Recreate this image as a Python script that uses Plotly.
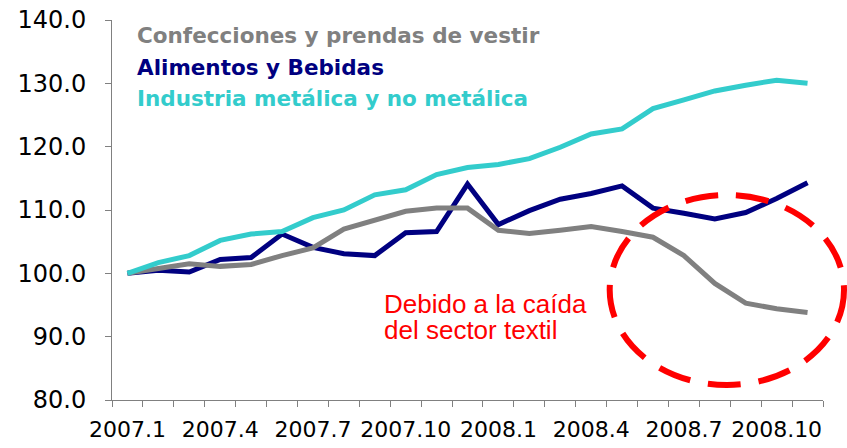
import plotly.graph_objects as go

months = ["2007.1", "2007.2", "2007.3", "2007.4", "2007.5", "2007.6", "2007.7", "2007.8",
          "2007.9", "2007.10", "2007.11", "2007.12", "2008.1", "2008.2", "2008.3", "2008.4",
          "2008.5", "2008.6", "2008.7", "2008.8", "2008.9", "2008.10", "2008.11"]
tick_labels = ["2007.1", "2007.4", "2007.7", "2007.10", "2008.1", "2008.4", "2008.7", "2008.10"]

confecciones = [100.0, 100.8, 101.5, 101.1, 101.4, 102.8, 104.0, 107.0, 108.4, 109.8, 110.3, 110.3,
                106.8, 106.3, 106.8, 107.4, 106.6, 105.7, 102.8, 98.4, 95.3, 94.4, 93.8]
alimentos = [100.0, 100.5, 100.2, 102.2, 102.5, 106.2, 104.1, 103.1, 102.8, 106.4, 106.6, 114.1,
             107.7, 109.9, 111.7, 112.6, 113.8, 110.3, 109.5, 108.6, 109.6, 111.8, 114.3]
industria = [100.0, 101.7, 102.8, 105.2, 106.2, 106.6, 108.8, 110.0, 112.4, 113.2, 115.6, 116.7,
             117.2, 118.1, 119.9, 122.0, 122.8, 126.0, 127.4, 128.8, 129.7, 130.5, 130.0]

names = ["Confecciones y prendas de vestir", "Alimentos y Bebidas", "Industria metálica y no metálica"]
colors = ["#808080", "#000080", "#33CCCC"]

W, H = 847, 448
ML, MR, MT, MB = 112, 24, 19.5, 48
PW, PH = W - ML - MR, H - MT - MB


def px(x):
    return (x - ML) / PW


def py(y):
    return (H - MB - y) / PH


fig = go.Figure()
for series, name, color in [(alimentos, names[1], colors[1]),
                            (confecciones, names[0], colors[0]),
                            (industria, names[2], colors[2])]:
    fig.add_trace(go.Scatter(x=months, y=series, mode="lines", name=name,
                             line=dict(color=color, width=5), showlegend=False))

ticktext = [m if m in tick_labels else "" for m in months]

fig.update_layout(
    width=W, height=H,
    margin=dict(l=ML, r=MR, t=MT, b=MB, pad=0, autoexpand=False),
    paper_bgcolor="white", plot_bgcolor="white",
    font=dict(family="DejaVu Sans", color="black"),
    xaxis=dict(type="category", range=[-0.5, 22.5], tickmode="array", tickvals=months,
               ticktext=ticktext, tickson="boundaries", ticks="outside", ticklen=6,
               tickcolor="#808080", showline=True, linecolor="#808080", linewidth=1,
               showgrid=False, zeroline=False, tickangle=0, ticklabelstandoff=10,
               automargin=False, ticklabeloverflow="allow",
               tickfont=dict(size=22, family="DejaVu Sans")),
    yaxis=dict(range=[80, 140], dtick=10, tick0=80, tickformat=".1f", ticks="outside",
               ticklen=6, tickcolor="#808080", showline=True, linecolor="#808080",
               linewidth=1, showgrid=False, zeroline=False, ticklabelstandoff=14,
               automargin=False, ticklabeloverflow="allow",
               tickfont=dict(size=24, family="DejaVu Sans")),
)

legend_y = [35, 66.8, 97.8]
for name, color, yy in zip(names, colors, legend_y):
    fig.add_annotation(xref="paper", yref="paper", x=px(135), y=py(yy), xanchor="left",
                       yanchor="middle", showarrow=False, text="<b>" + name + "</b>",
                       font=dict(family="DejaVu Sans", size=21.5, color=color))

for line, yy in [("Debido a la caída", 303.4), ("del sector textil", 330)]:
    fig.add_annotation(xref="paper", yref="paper", x=px(382), y=py(yy), xanchor="left",
                       yanchor="middle", showarrow=False, text=line,
                       font=dict(family="Liberation Sans, Arial", size=26, color="#FF0000"))

fig.add_shape(type="circle", xref="paper", yref="paper",
              x0=px(609.7), x1=px(844), y0=py(385), y1=py(194.7),
              line=dict(color="#FF0000", width=6, dash="33px,18px"), layer="above")

fig.write_html("out.html", config={"displayModeBar": False},
               post_script="document.body.style.margin='0';document.body.style.padding='0';")
